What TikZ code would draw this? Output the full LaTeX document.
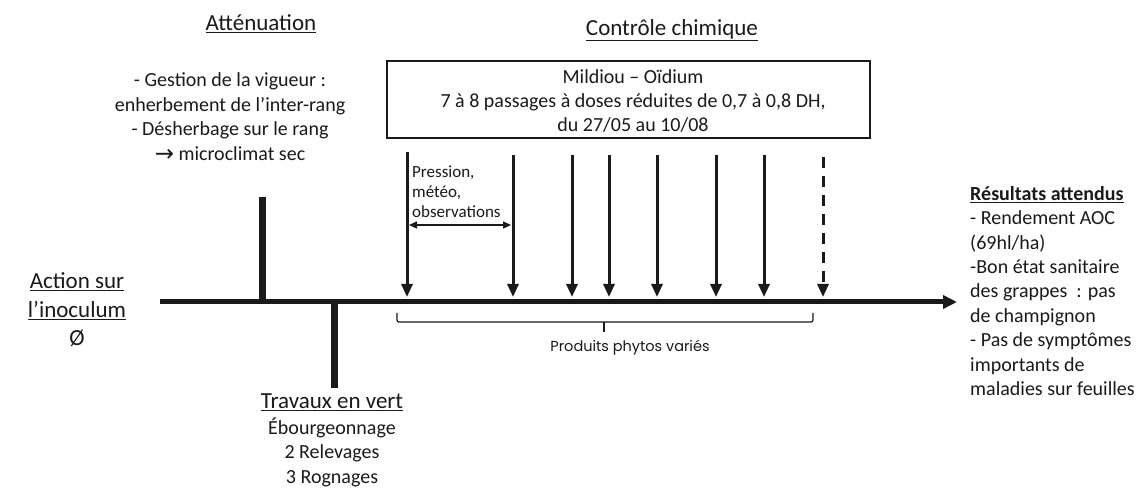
\documentclass[tikz,border=0pt]{standalone}
\usepackage{fontspec}
\setmainfont{Carlito}
\newfontfamily\geofont{Poppins}
\newfontfamily\symfont{DejaVu Sans}
\usetikzlibrary{arrows.meta}
\definecolor{ink}{HTML}{1A1A1A}
\begin{document}
\begin{tikzpicture}[x=1pt,y=-1pt,
  txt/.style={font=\fontsize{20}{24.4}\selectfont, inner sep=0pt, align=center, text=ink},
  ttl/.style={font=\fontsize{23}{28.5}\selectfont, inner sep=0pt, align=center, text=ink},
  bar/.style={line width=7pt, draw=ink},
  axisline/.style={line width=5pt, draw=ink, -{Triangle[length=14pt,width=13pt]}},
  push/.style={line width=3pt, draw=ink, -{Triangle[length=13pt,width=11pt]}},
  gap/.style={line width=1.5pt, draw=ink, {Triangle[length=8pt,width=7pt]}-{Triangle[length=8pt,width=7pt]}},
]
\useasboundingbox[fill=white] (0,0) rectangle (1141,502);

% titles
\node[ttl] (att) at (261,24) {\underline{Atténuation}};
\node[txt] (attb) at (230,117) {- Gestion de la vigueur :\\ enherbement de l’inter-rang\\ - Désherbage sur le rang\\ \raisebox{-1pt}{\symfont\fontsize{23}{20}\selectfont →} microclimat sec};

\node[ttl] (ctl) at (672,30) {\underline{Contrôle chimique}};
\node[draw=ink, line width=1.5pt, minimum width=483pt, minimum height=77pt, inner sep=0pt] (box) at (628.5,99.5) {};
\node[txt] (boxtxt) at (633,101) {Mildiou – Oïdium\\ 7 à 8 passages à doses réduites de 0,7 à 0,8 DH,\\ du 27/05 au 10/08};

\node[ttl] (act) at (77,310) {\underline{Action sur}\\ \underline{l’inoculum}\\ Ø};

\node[ttl] (trv) at (332,402) {\underline{Travaux en vert}};
\node[txt] (trvb) at (332,452) {Ébourgeonnage\\2 Relevages\\3 Rognages};

\node[anchor=north west, align=left, inner sep=0pt, text=ink, font=\fontsize{20}{24.4}\selectfont] (res) at (970,186)
 {\textbf{\underline{Résultats attendus}}\\- Rendement AOC\\(69hl/ha)\\-Bon état sanitaire\\des grappes\ \ : pas\\de champignon\\- Pas de symptômes\\importants de\\maladies sur feuilles};

% axis
\coordinate (ax0) at (160,302);
\coordinate (ax1) at (957,302);
\draw[axisline] (ax0) -- (ax1);

% bars
\coordinate (b1t) at (262,197); \coordinate (b1b) at (262,302);
\draw[bar] (b1t) -- (b1b);
\coordinate (b2t) at (334,302); \coordinate (b2b) at (334,388);
\draw[bar] (b2t) -- (b2b);

% treatment arrows
\coordinate (t1) at (407,152); \coordinate (h1) at (407,297);
\draw[push] (t1) -- (h1);
\foreach \i/\x in {2/513,3/572,4/609,5/657,6/716,7/764}{
  \coordinate (t\i) at (\x,155); \coordinate (h\i) at (\x,297);
  \draw[push] (t\i) -- (h\i);
}
\coordinate (t8) at (823,157); \coordinate (h8) at (823,297);
\draw[push, dash pattern=on 11pt off 8pt] (t8) -- (h8);

% interval
\coordinate (d1) at (409,225); \coordinate (d2) at (511,225);
\draw[gap] (d1) -- (d2);
\node[anchor=west, align=left, inner sep=0pt, text=ink, font=\fontsize{17}{20}\selectfont] (pres) at (412,192) {Pression,\\météo,\\observations};

% brace
\coordinate (brL) at (397,313); \coordinate (brR) at (813,313);
\coordinate (brM) at (604,322); \coordinate (brT) at (604,332);
\draw[ink, line width=1.2pt, rounded corners=2pt] (brL) |- (brM) -| (brR);
\draw[ink, line width=1.2pt] (brM) -- (brT);
\node[inner sep=0pt, text=ink, font=\geofont\fontsize{14.5}{17}\selectfont] (prod) at (630,348) {Produits phytos variés};
\end{tikzpicture}
\end{document}
